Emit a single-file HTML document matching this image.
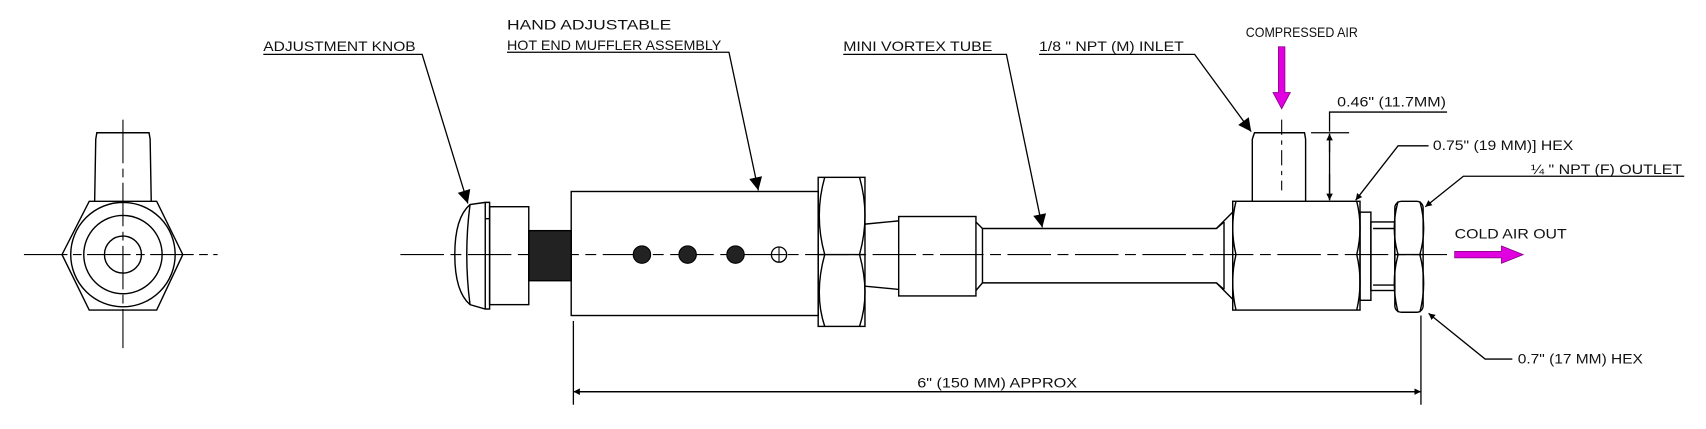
<!DOCTYPE html>
<html><head><meta charset="utf-8"><style>
html,body{margin:0;padding:0;background:#fff;}
svg{display:block;}
text{font-family:"Liberation Sans",Arial,sans-serif;font-size:13px;fill:#111;}
</style></head><body>
<svg width="1706" height="429" viewBox="0 0 1568 394.3" preserveAspectRatio="none" xmlns="http://www.w3.org/2000/svg">
<defs>
<marker id="ar" viewBox="0 0 10 10" refX="10" refY="5" markerWidth="6" markerHeight="14" markerUnits="userSpaceOnUse" orient="auto"><path d="M0,0 L10,5 L0,10 z" fill="#000"/></marker>
<marker id="ab" viewBox="0 0 10 10" refX="10" refY="5" markerWidth="28" markerHeight="12" markerUnits="userSpaceOnUse" orient="auto"><path d="M0,0 L10,5 L0,10 z" fill="#000"/></marker>
</defs>
<g fill="none" stroke="#000" stroke-width="1.3">
<!-- left end view -->
<line x1="22" y1="234" x2="200" y2="234" stroke-dasharray="40,5,8,5" stroke-width="1"/>
<line x1="113" y1="110" x2="113" y2="320" stroke-dasharray="40,5,8,5" stroke-width="1"/>
<polygon points="82,185 144,185 168,234 144,285 82,285 57,234"/>
<circle cx="113" cy="234" r="48"/>
<circle cx="113" cy="234" r="36"/>
<circle cx="113" cy="234" r="17"/>
<path d="M87,185 L88,128 L89,122 L137,122 L138,128 L139,185"/>
<!-- centerline main -->
<line x1="368" y1="234" x2="1330" y2="234" stroke-dasharray="40,6,10,6" stroke-width="1"/>
<!-- knob -->
<path d="M432,188 Q418,200 418,234 Q418,268 432,280 L446,284 L450,284 L450,186 L446,186 Z"/>
<path d="M432,188 Q426,234 432,280" />
<line x1="446" y1="186" x2="446" y2="284"/>
<line x1="446" y1="201" x2="450" y2="201"/>
<rect x="450" y="190" width="36" height="90"/>
<!-- threads -->
<rect x="486" y="212" width="39" height="46" fill="#222"/>
<!-- muffler -->
<rect x="525" y="176" width="227" height="114"/>
<!-- hex nut -->
<rect x="752" y="163" width="43" height="137"/>
<path d="M758,163 Q748,198 758,234 Q748,270 758,300 M790,163 Q800,198 790,234 Q800,270 790,300"/>
<line x1="752" y1="234" x2="795" y2="234"/>
<!-- taper fitting -->
<path d="M795,206 L826,203 M795,263 L826,266"/>
<rect x="826" y="199" width="71" height="73"/>
<!-- tube -->
<path d="M897,204 L903,210 L1118,210 L1125,204 M897,267 L903,260 L1118,260 L1125,266"/>
<line x1="903" y1="210" x2="903" y2="260"/>
<path d="M1118,210 L1133,195 M1118,260 L1133,275"/>
<line x1="1125" y1="204" x2="1125" y2="266"/>
<!-- tee -->
<rect x="1133" y="185" width="117" height="100"/>
<path d="M1136,185 Q1130,209 1136,234 Q1130,259 1136,285 M1247,185 Q1253,209 1247,234 Q1253,259 1247,285"/>
<path d="M1151,185 L1151,128 L1153,122 L1199,122 L1200,128 L1200,185"/>
<line x1="1178" y1="110" x2="1178" y2="175" stroke-dasharray="14,5,4,5" stroke-width="1"/>
<rect x="1250" y="195" width="10" height="81"/>
<rect x="1260" y="204" width="22" height="63"/>
<line x1="1262" y1="210" x2="1282" y2="210"/><line x1="1262" y1="262" x2="1282" y2="262"/>
<rect x="1282" y="185" width="26" height="102" rx="6"/>
<path d="M1285,185 Q1278,210 1285,234 Q1278,260 1285,287 M1305,185 Q1312,210 1305,234 Q1312,260 1305,287"/>
<line x1="1282" y1="234" x2="1308" y2="234"/>
</g>
<g fill="#222" stroke="#000">
<circle cx="590" cy="234" r="8"/><circle cx="632" cy="234" r="8"/><circle cx="676" cy="234" r="8"/>
</g>
<circle cx="716" cy="234" r="7" fill="#fff" stroke="#000" stroke-width="1.2"/>
<line x1="716" y1="227" x2="716" y2="241" stroke="#000"/>
<line x1="709" y1="234" x2="723" y2="234" stroke="#000"/>
<!-- leaders -->
<g fill="none" stroke="#000" stroke-width="1.2">
<polyline points="242,50 388,50 430,187" marker-end="url(#ab)"/>
<polyline points="466,48 670,48 697,175" marker-end="url(#ab)"/>
<polyline points="775,50 925,50 958,209" marker-end="url(#ab)"/>
<polyline points="955,50 1098,50 1150,121" marker-end="url(#ab)"/>
<polyline points="1330,103 1222,103 1222,121" />
<line x1="1222" y1="140" x2="1222" y2="123" marker-end="url(#ar)"/>
<line x1="1222" y1="160" x2="1222" y2="184" marker-end="url(#ar)"/>
<line x1="1222" y1="123" x2="1222" y2="184"/>
<line x1="1205" y1="122" x2="1240" y2="122"/>
<polyline points="1313,134 1285,134 1246,184" marker-end="url(#ar)"/>
<polyline points="1548,162 1345,162 1310,190" marker-end="url(#ar)"/>
<polyline points="1390,330 1365,330 1313,288" marker-end="url(#ar)"/>
<line x1="527" y1="295" x2="527" y2="372"/>
<line x1="1306" y1="290" x2="1306" y2="372"/>
<line x1="527" y1="360" x2="1306" y2="360" marker-end="url(#ar)"/>
<line x1="1306" y1="360" x2="527" y2="360" marker-end="url(#ar)"/>
</g>
<!-- magenta arrows -->
<polygon points="1175,43 1181,43 1181,85 1186,85 1178,100 1170,85 1175,85" fill="#e000e0" stroke="#800080" stroke-width="0.7"/>
<polygon points="1337,231 1380,231 1380,226 1400,234 1380,242 1380,237 1337,237" fill="#e000e0" stroke="#800080" stroke-width="0.7"/>
<!-- labels -->
<text x="242" y="47" textLength="140" lengthAdjust="spacingAndGlyphs">ADJUSTMENT KNOB</text>
<text x="466" y="27" textLength="151" lengthAdjust="spacingAndGlyphs">HAND ADJUSTABLE</text>
<text x="466" y="46" textLength="197" lengthAdjust="spacingAndGlyphs">HOT END MUFFLER ASSEMBLY</text>
<text x="775" y="47" textLength="137" lengthAdjust="spacingAndGlyphs">MINI VORTEX TUBE</text>
<text x="955" y="47" textLength="133" lengthAdjust="spacingAndGlyphs">1/8 " NPT (M) INLET</text>
<text x="1145" y="34" textLength="103" lengthAdjust="spacingAndGlyphs">COMPRESSED AIR</text>
<text x="1229" y="98" textLength="100" lengthAdjust="spacingAndGlyphs">0.46" (11.7MM)</text>
<text x="1317" y="138" textLength="129" lengthAdjust="spacingAndGlyphs">0.75" (19 MM)] HEX</text>
<text x="1407" y="160" textLength="139" lengthAdjust="spacingAndGlyphs">¼ " NPT (F) OUTLET</text>
<text x="1337" y="219" textLength="103" lengthAdjust="spacingAndGlyphs">COLD AIR OUT</text>
<text x="1395" y="334" textLength="115" lengthAdjust="spacingAndGlyphs">0.7" (17 MM) HEX</text>
<text x="843" y="356" textLength="147" lengthAdjust="spacingAndGlyphs">6" (150 MM) APPROX</text>
</svg>
</body></html>
